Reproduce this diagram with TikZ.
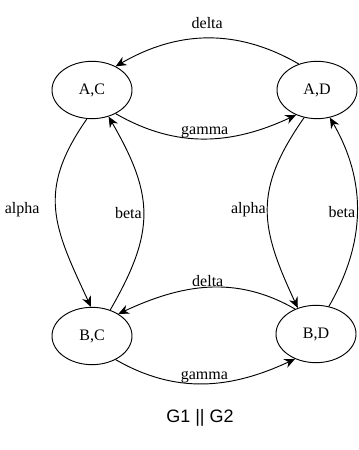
\documentclass[tikz,border=0pt]{standalone}
\usepackage{fontspec}
\setmainfont{Liberation Serif}
\newfontfamily\captionfont{Liberation Sans}
\usetikzlibrary{shapes.geometric,arrows.meta}

\begin{document}
\begin{tikzpicture}[x=0.75pt,y=0.75pt,
  state/.style={draw, ellipse, line width=0.7pt, minimum width=60pt, minimum height=43pt, inner sep=0pt, font=\large},
  trans/.style={line width=0.7pt, -{Stealth[length=8pt,width=7pt]}},
  lbl/.style={font=\large, inner sep=2pt}]
\useasboundingbox (0,0) rectangle (358,450);

% States
\node[state] (ac) at (92,360) {A,C};
\node[state] (ad) at (317,360) {A,D};
\node[state] (bc) at (92,114) {B,C};
\node[state] (bd) at (316,116) {B,D};

% Top pair
\draw[trans] (ad.125) to[out=150,in=30] node[lbl,above=5pt] {delta} (ac.45);
\draw[trans] (ac.-45) to[out=-30,in=205] node[lbl,above=-2pt] {gamma} (ad.-130);

% Left column
\draw[trans] (ac.-100) to[out=235,in=115,looseness=1.2] node[lbl,left=10pt] {alpha} (bc.92);
\draw[trans] (bc.55) to[out=60,in=-60,looseness=1.2] node[lbl,left=-1pt] {beta} (ac.-58);

% Right column
\draw[trans] (ad.-115) to[out=235,in=115,looseness=1.2] node[lbl,left=-1pt] {alpha} (bd.125);
\draw[trans] (bd.65) to[out=60,in=-60] node[lbl,left=-1pt] {beta} (ad.-65);

% Bottom pair
\draw[trans] (bd.130) to[out=150,in=25] node[lbl,above=-2pt] {delta} (bc.40);
\draw[trans] (bc.-45) to[out=-30,in=205] node[lbl,above=-2pt] {gamma} (bd.-130);

% Caption
\node[font=\captionfont\fontsize{13.5}{16}\selectfont] (cap) at (200,32) {G1 || G2};
\end{tikzpicture}
\end{document}
